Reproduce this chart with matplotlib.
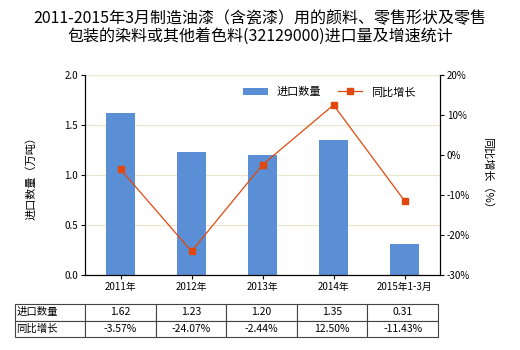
import matplotlib
matplotlib.use('Agg')
import matplotlib.pyplot as plt

plt.rcParams['font.family'] = ['Noto Sans CJK SC', 'DejaVu Sans']

# data
categories = ['2011年', '2012年', '2013年', '2014年', '2015年1-3月']
volume = [1.62, 1.23, 1.20, 1.35, 0.31]
growth = [-3.57, -24.07, -2.44, 12.50, -11.43]
volume_labels = ['1.62', '1.23', '1.20', '1.35', '0.31']
growth_labels = ['-3.57%', '-24.07%', '-2.44%', '12.50%', '-11.43%']

bar_color = '#5B8FD5'
line_color = '#E0480E'

fig = plt.figure(figsize=(5.2, 3.5), dpi=100)
ax = fig.add_axes([85/520, 1-275/350, 355/520, 200/350])
x = list(range(len(categories)))

ax.set_axisbelow(True)
ax.grid(axis='y', color='#ECE6CC', linewidth=0.9)
bars = ax.bar(x, volume, width=0.41, color=bar_color, label='进口数量', zorder=2)
ax.set_ylim(0, 2.0)
ax.set_yticks([0, 0.5, 1.0, 1.5, 2.0])
ax.set_yticklabels(['0.0', '0.5', '1.0', '1.5', '2.0'])
ax.set_xlim(-0.5, len(categories) - 0.5)
ax.set_xticks(x)
ax.set_xticklabels(categories)
ax.spines['top'].set_visible(False)
ax.tick_params(labelsize=7, length=3, pad=2)
ax.set_ylabel('进口数量（万吨）', fontsize=8, labelpad=20)

ax2 = ax.twinx()
line, = ax2.plot(x, growth, color=line_color, linewidth=0.9, marker='s',
                 markersize=5, label='同比增长', zorder=3)
ax2.set_ylim(-30, 20)
ax2.set_yticks([-30, -20, -10, 0, 10, 20])
ax2.set_yticklabels([f'{v}%' for v in [-30, -20, -10, 0, 10, 20]])
ax2.spines['top'].set_visible(False)
ax2.tick_params(labelsize=7, length=3, pad=2)
ax2.set_ylabel('同比增长（%）', fontsize=8, rotation=270, labelpad=16)

ax.legend([bars, line], ['进口数量', '同比增长'], loc='upper right', ncol=2,
          frameon=False, fontsize=8, bbox_to_anchor=(0.96, 0.99),
          handlelength=2.2, columnspacing=1.5)

fig.text(0.5, 0.975, '2011-2015年3月制造油漆（含瓷漆）用的颜料、零售形状及零售\n包装的染料或其他着色料(32129000)进口量及增速统计',
         ha='center', va='top', fontsize=11.5, linespacing=1.25)

# table under the chart
tax = fig.add_axes([15/520, 1-337/350, 423/520, 33/350])
tax.axis('off')
cells = [['进口数量'] + volume_labels, ['同比增长'] + growth_labels]
tbl = tax.table(cellText=cells, bbox=[0, 0, 1, 1], cellLoc='center',
                colWidths=[70] + [70.6] * 5)
tbl.auto_set_font_size(False)
tbl.set_fontsize(7.5)
for (r, c), cell in tbl.get_celld().items():
    cell.set_edgecolor('#444444')
    cell.set_linewidth(0.8)
    if c == 0:
        cell.set_text_props(ha='left')
        cell._loc = 'left'
        cell.PAD = 0.02

fig.savefig('out.png', dpi=100)
